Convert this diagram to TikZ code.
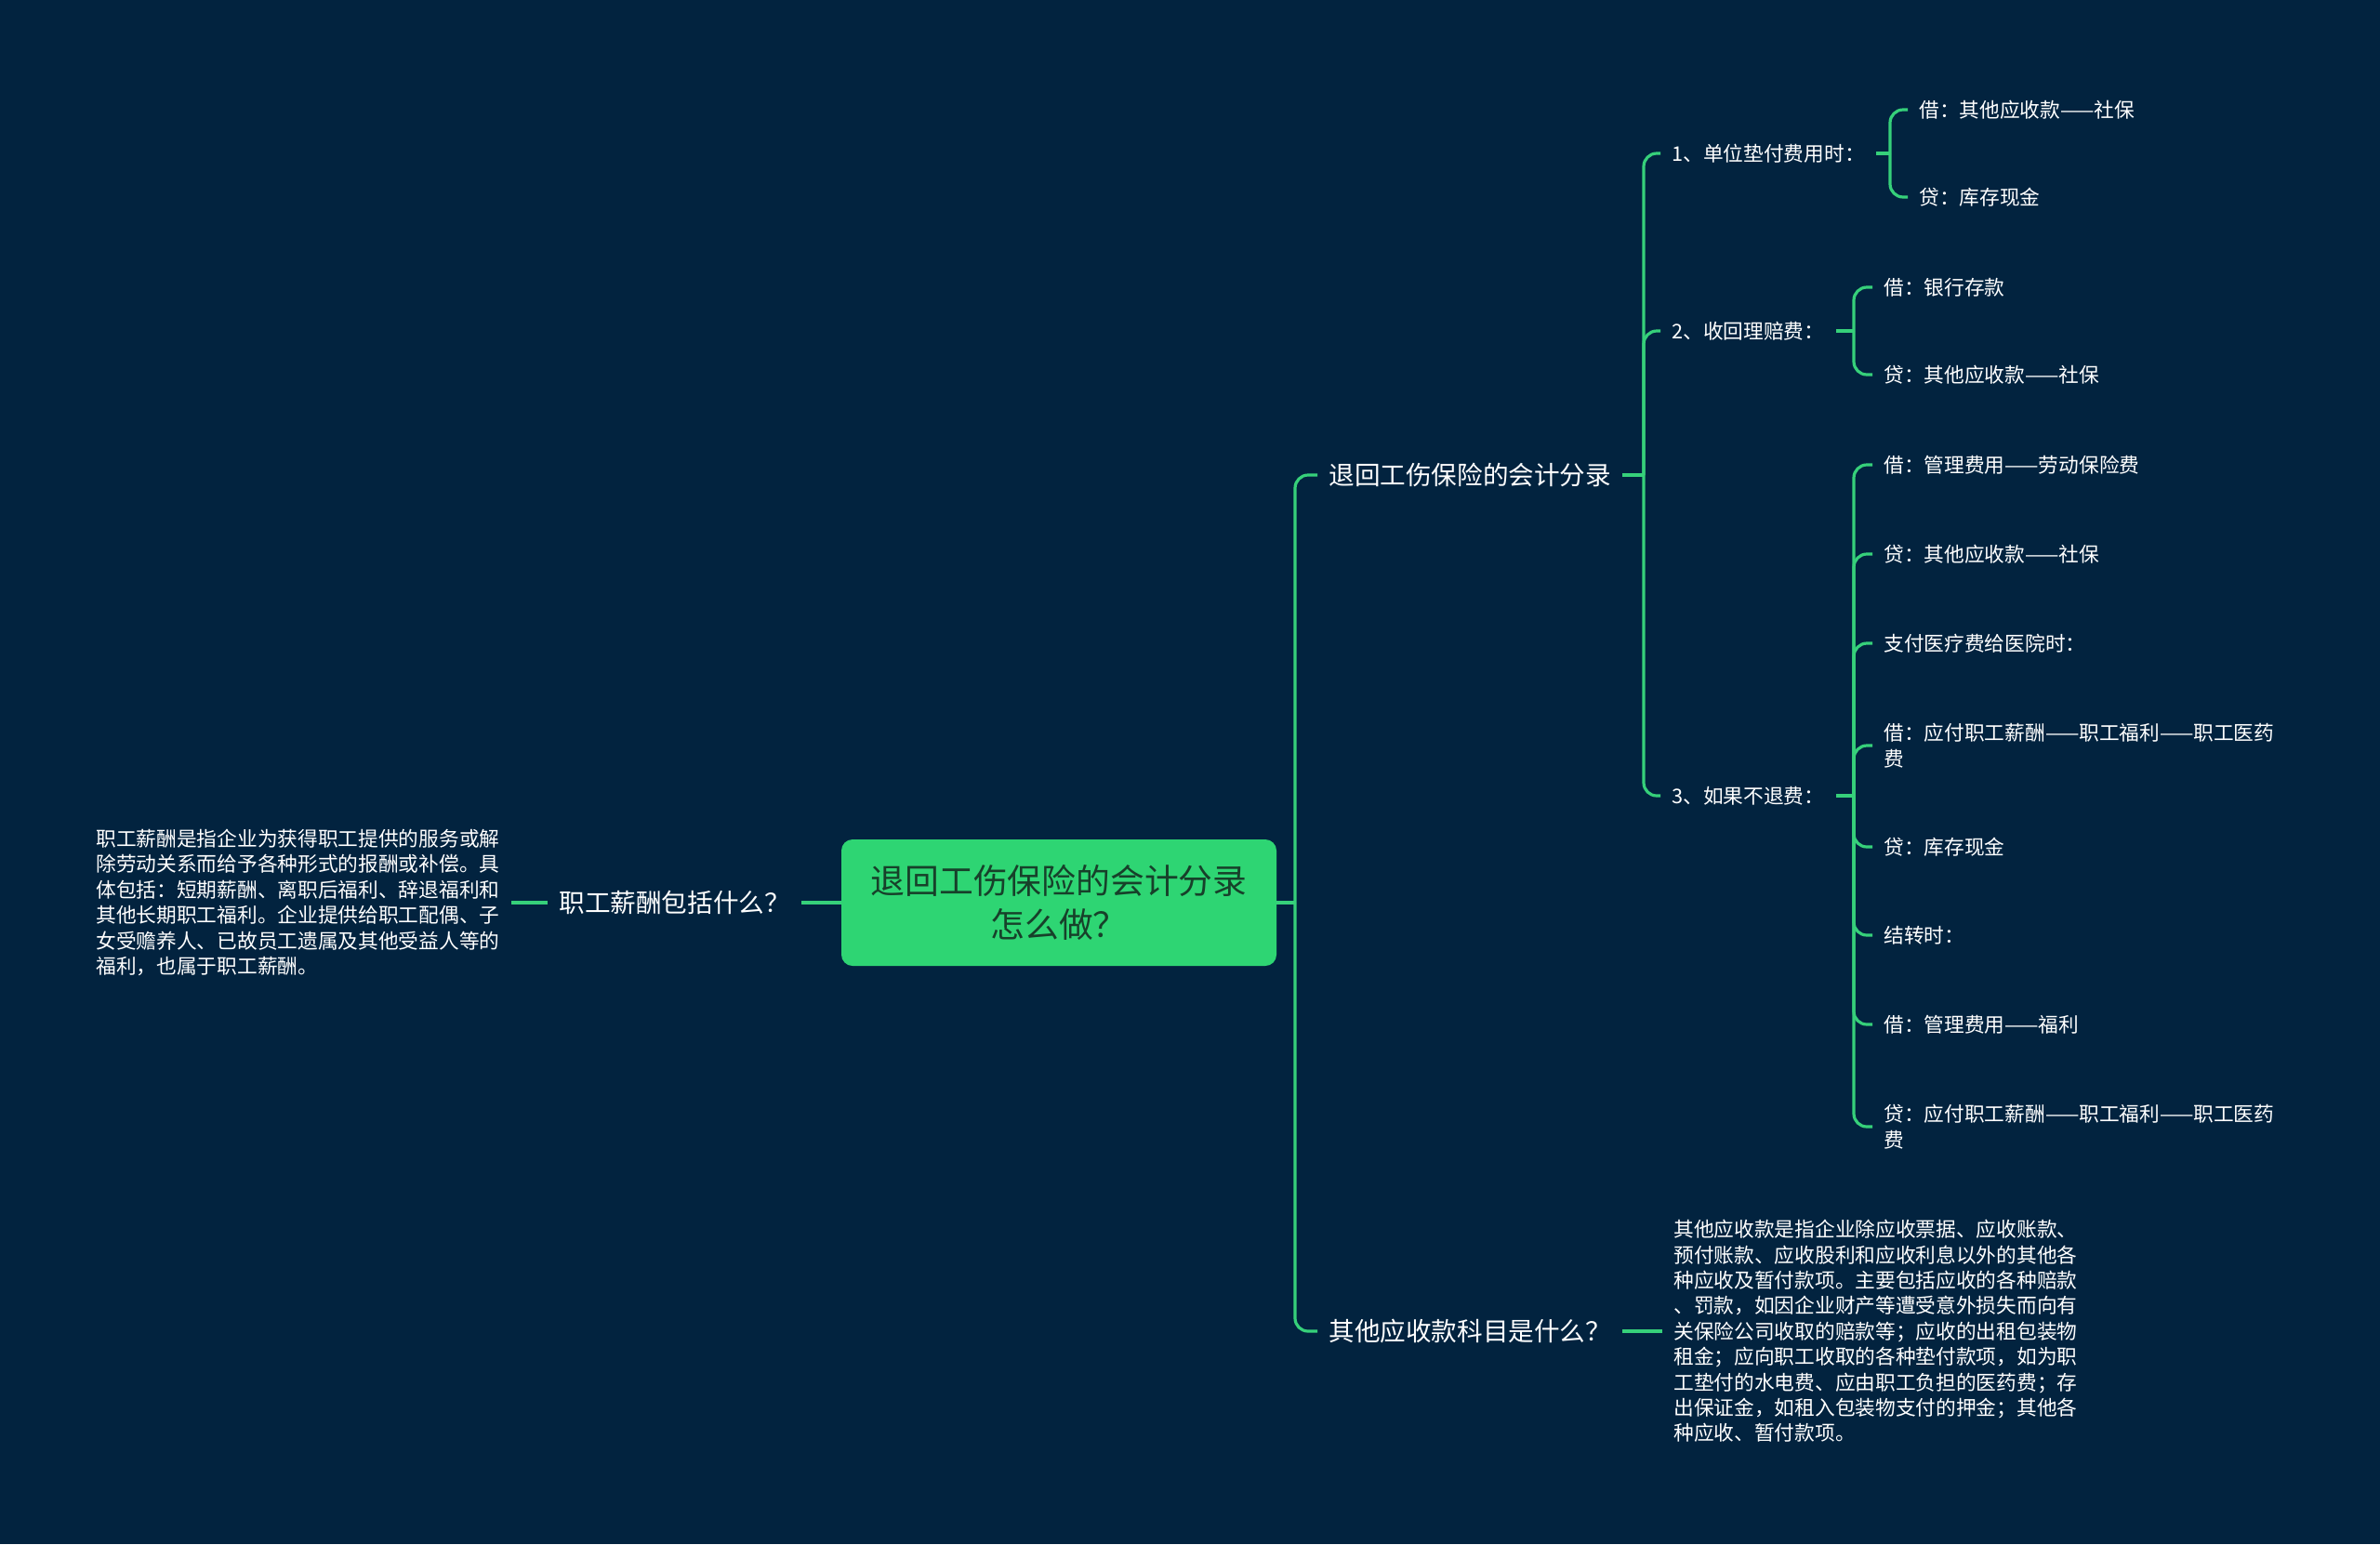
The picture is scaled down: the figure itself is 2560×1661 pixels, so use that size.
\documentclass[tikz,border=0pt]{standalone}
\usepackage{fontspec}
\setmainfont{Noto Sans CJK SC}
\usepackage{xcolor}
\definecolor{bgnavy}{HTML}{02233F}
\definecolor{linkgreen}{HTML}{36D07A}
\definecolor{rootgreen}{HTML}{2ED573}
\definecolor{roottext}{HTML}{17402A}

\tikzset{
    link/.style={draw=linkgreen, line width=1.6pt, rounded corners=7pt},
    topic/.style={text=white, font=\fontsize{13.8}{17}\selectfont, anchor=west, inner xsep=6pt, inner ysep=2pt},
    leaf/.style={text=white, font=\fontsize{10.85}{13.7}\selectfont, anchor=west, align=left, inner xsep=6pt, inner ysep=2pt},
}

\begin{document}
\begin{tikzpicture}[x=0.5pt,y=-0.5pt] % one unit = one pixel of the 2560x1661 sheet, y going down
    \fill[bgnavy] (0,0) rectangle (2560,1661);
    \useasboundingbox (0,0) rectangle (2560,1661);

    % central topic
    \node[fill=rootgreen, text=roottext, rounded corners=6pt, minimum width=234pt, minimum height=68pt, align=center, font=\fontsize{18.4}{23.5}\selectfont] (root) at (1139,971) {退回工伤保险的会计分录\\怎么做？};

    % left side
    \node[topic] (salary) at (589,971) {职工薪酬包括什么？};
    \node[leaf] (salarytext) at (91,971) {职工薪酬是指企业为获得职工提供的服务或解\\除劳动关系而给予各种形式的报酬或补偿。具\\体包括：短期薪酬、离职后福利、辞退福利和\\其他长期职工福利。企业提供给职工配偶、子\\女受赡养人、已故员工遗属及其他受益人等的\\福利，也属于职工薪酬。};
    \draw[link] (root.west) -- (salary.east);
    \draw[link] (salary.west) -- (salarytext.east);

    % right side, first level
    \coordinate (busmain) at (1393,971);
    \node[topic] (entries) at (1417,511) {退回工伤保险的会计分录};
    \node[topic] (others) at (1417,1432) {其他应收款科目是什么？};
    \node[leaf] (otherstext) at (1788,1432) {其他应收款是指企业除应收票据、应收账款、\\预付账款、应收股利和应收利息以外的其他各\\种应收及暂付款项。主要包括应收的各种赔款\\、罚款，如因企业财产等遭受意外损失而向有\\关保险公司收取的赔款等；应收的出租包装物\\租金；应向职工收取的各种垫付款项，如为职\\工垫付的水电费、应由职工负担的医药费；存\\出保证金，如租入包装物支付的押金；其他各\\种应收、暂付款项。};
    \draw[link] (root.east) -- (busmain);
    \draw[link] (busmain) |- (entries.west);
    \draw[link] (busmain) |- (others.west);
    \draw[link] (others.east) -- (otherstext.west);

    % the three cases
    \coordinate (busentries) at (1768,511);
    \node[leaf] (caseone) at (1786,165) {1、单位垫付费用时：};
    \node[leaf] (casetwo) at (1786,356) {2、收回理赔费：};
    \node[leaf] (casethree) at (1786,856) {3、如果不退费：};
    \draw[link] (entries.east) -- (busentries);
    \draw[link] (busentries) |- (caseone.west);
    \draw[link] (busentries) |- (casetwo.west);
    \draw[link] (busentries) |- (casethree.west);

    % case 1
    \coordinate (busone) at (2033,165);
    \node[leaf] (onedebit) at (2052,118) {借：其他应收款——社保};
    \node[leaf] (onecredit) at (2052,212) {贷：库存现金};
    \draw[link] (caseone.east) -- (busone);
    \draw[link] (busone) |- (onedebit.west);
    \draw[link] (busone) |- (onecredit.west);

    % case 2
    \coordinate (bustwo) at (1994,356);
    \node[leaf] (twodebit) at (2014,309) {借：银行存款};
    \node[leaf] (twocredit) at (2014,403) {贷：其他应收款——社保};
    \draw[link] (casetwo.east) -- (bustwo);
    \draw[link] (bustwo) |- (twodebit.west);
    \draw[link] (bustwo) |- (twocredit.west);

    % case 3
    \coordinate (busthree) at (1994,856);
    \node[leaf] (threeA) at (2014,500) {借：管理费用——劳动保险费};
    \node[leaf] (threeB) at (2014,596) {贷：其他应收款——社保};
    \node[leaf] (threeC) at (2014,692) {支付医疗费给医院时：};
    \node[leaf] (threeD) at (2014,802) {借：应付职工薪酬——职工福利——职工医药\\费};
    \node[leaf] (threeE) at (2014,911) {贷：库存现金};
    \node[leaf] (threeF) at (2014,1006) {结转时：};
    \node[leaf] (threeG) at (2014,1102) {借：管理费用——福利};
    \node[leaf] (threeH) at (2014,1212) {贷：应付职工薪酬——职工福利——职工医药\\费};
    \draw[link] (casethree.east) -- (busthree);
    \draw[link] (busthree) |- (threeA.west);
    \draw[link] (busthree) |- (threeB.west);
    \draw[link] (busthree) |- (threeC.west);
    \draw[link] (busthree) |- (threeD.west);
    \draw[link] (busthree) |- (threeE.west);
    \draw[link] (busthree) |- (threeF.west);
    \draw[link] (busthree) |- (threeG.west);
    \draw[link] (busthree) |- (threeH.west);
\end{tikzpicture}
\end{document}
